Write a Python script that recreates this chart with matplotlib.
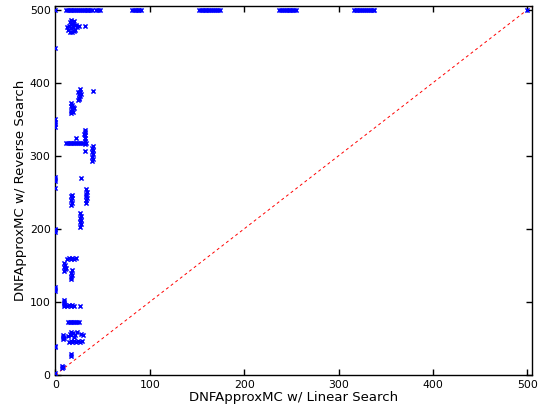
import matplotlib
matplotlib.use("Agg")
import matplotlib.pyplot as plt

# (linear search, reverse search) pairs, grouped by cluster
top_row_x = [0, 11, 13, 15, 17, 19, 21, 23, 25, 27, 29, 31, 33, 35, 37, 39, 43, 45, 47,
             81, 83, 85, 87, 89, 91,
             152, 154, 156, 158, 160, 162, 164, 166, 168, 170, 172, 174,
             237, 239, 241, 243, 245, 247, 249, 251, 253, 255,
             316, 318, 320, 322, 324, 326, 328, 330, 332, 334, 336, 338, 500]
top_row = [(x, 500) for x in top_row_x]

upper_pts = [(13, 472), (14, 478), (15, 483), (16, 475), (17, 480), (18, 470), (19, 477),
             (20, 484), (21, 473), (22, 479), (23, 476), (15, 470), (17, 486), (20, 471),
             (12, 477), (25, 478), (31, 478), (19, 481)]

zero_pts = [(0, 448), (0, 340), (0, 343), (0, 346), (0, 350), (0, 265), (0, 268), (0, 271),
            (0, 256), (0, 195), (0, 198), (0, 200), (0, 115), (0, 118), (0, 120), (0, 38),
            (0, 40), (0, 3)]

mid_pts = [(24, 376), (25, 379), (26, 382), (25, 385), (24, 388), (26, 391), (25, 378),
           (27, 384), (26, 387), (40, 389),
           (16, 358), (17, 361), (18, 364), (19, 367), (18, 370), (17, 373), (19, 360),
           (20, 365), (16, 368), (22, 325),
           (11, 318), (13, 317), (15, 318), (17, 317), (19, 318), (21, 317), (23, 318),
           (25, 317), (27, 318), (29, 317),
           (31, 316), (31, 320), (31, 324), (31, 328), (31, 332), (31, 336), (32, 318),
           (30, 330), (31, 307),
           (39, 293), (40, 296), (39, 299), (40, 302), (39, 305), (40, 308), (39, 311),
           (40, 314), (27, 270)]

low_pts = [(17, 233), (18, 236), (17, 239), (18, 242), (17, 245), (18, 247),
           (32, 236), (32, 239), (33, 242), (32, 245), (32, 248), (33, 251), (32, 254),
           (26, 203), (27, 206), (26, 209), (27, 212), (26, 215), (27, 218), (26, 221),
           (12, 159), (14, 160), (16, 159), (18, 160), (20, 159), (22, 160),
           (9, 142), (10, 145), (9, 148), (10, 151), (9, 153), (11, 147),
           (17, 131), (17, 134), (18, 137), (17, 140), (18, 143),
           (9, 94), (9, 97), (9, 100), (9, 103), (10, 96),
           (12, 94), (14, 95), (16, 94), (18, 95), (20, 94), (26, 94),
           (13, 73), (15, 72), (17, 73), (19, 72), (21, 73), (23, 72), (25, 73),
           (13, 53), (15, 56), (17, 54), (19, 57), (21, 55), (23, 58), (20, 52), (16, 59),
           (27, 56), (29, 55),
           (8, 49), (8, 52), (8, 55), (9, 51),
           (14, 45), (16, 46), (18, 45), (20, 46), (22, 45), (24, 46), (26, 45), (28, 46),
           (17, 26), (17, 29), (7, 9), (7, 12), (8, 11)]

points = top_row + upper_pts + zero_pts + mid_pts + low_pts
linear = [p[0] for p in points]
reverse = [p[1] for p in points]

fig = plt.figure(figsize=(5.49, 4.11), dpi=100)
ax = fig.add_axes([0.101, 0.088, 0.868, 0.897])
ax.scatter(linear, reverse, marker="x", color="blue", s=9, linewidths=1.1, zorder=3)
ax.plot([0, 505], [0, 505], color="red", linestyle="--", linewidth=0.7, dashes=(3, 3))
ax.set_xlim(0, 505)
ax.set_ylim(0, 505)
ax.set_xticks([0, 100, 200, 300, 400, 500])
ax.set_yticks([0, 100, 200, 300, 400, 500])
ax.tick_params(direction="in", top=True, right=True, length=4, width=1, labelsize=7.8)
for s in ax.spines.values():
    s.set_linewidth(1)
ax.set_xlabel("DNFApproxMC w/ Linear Search", fontsize=9.5, labelpad=1)
ax.set_ylabel("DNFApproxMC w/ Reverse Search", fontsize=9.5, labelpad=2)
fig.savefig("out.png", dpi=100)
